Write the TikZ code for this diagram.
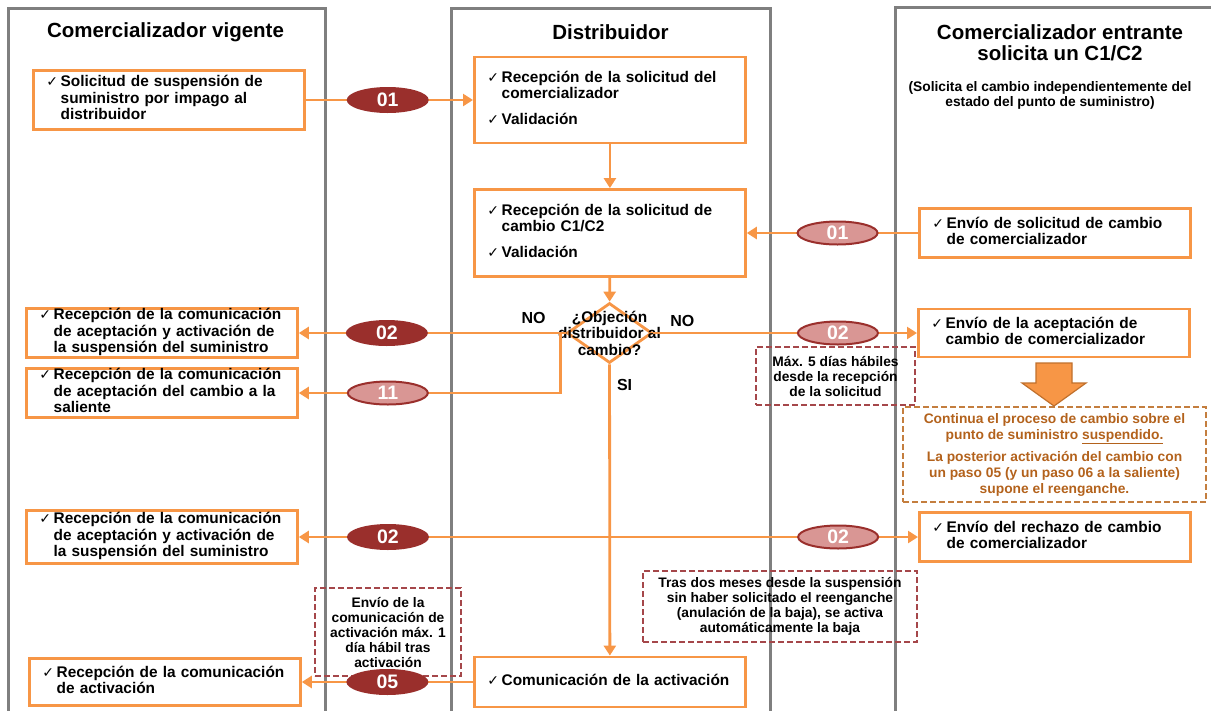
\documentclass[tikz,border=0pt]{standalone}
\usepackage{fontspec}
\setmainfont{Liberation Sans}
\newfontfamily\checkfont{DejaVu Sans}
\usetikzlibrary{positioning,arrows.meta,shapes.geometric}
\definecolor{orbox}{HTML}{F79646}
\definecolor{lanegray}{HTML}{7F7F7F}
\definecolor{stepred}{HTML}{9A2F2C}
\definecolor{steppink}{HTML}{D99694}
\definecolor{notered}{HTML}{A5474A}
\definecolor{notebrown}{HTML}{B3621C}
\definecolor{noteedge}{HTML}{C47E3E}
\definecolor{arrowedge}{HTML}{C0702C}
\newcommand{\chk}{{\checkfont\mdseries\fontsize{14}{14}\selectfont\char"2713}}
\newcommand{\checks}[1]{\begin{tabular}{@{}l@{\,}l@{}}#1\end{tabular}}
\newcommand{\bodyfont}{\fontsize{15.4}{16.5}\selectfont\bfseries}
\newcommand{\notefont}{\fontsize{13.8}{15}\selectfont\bfseries}
\newcommand{\headfont}{\fontsize{20.5}{21}\selectfont\bfseries}

\begin{document}
\begin{tikzpicture}[x=1pt, y=-1pt,
      >={Triangle[length=10pt, width=12pt]},
      lane/.style={draw=lanegray, line width=3pt},
      head/.style={font=\headfont, align=center, inner sep=0pt},
      box/.style={draw=orbox, line width=2.8pt, fill=white, anchor=west, text width=245pt,
                  inner xsep=13pt, inner ysep=0pt, align=left, font=\bodyfont},
      decision/.style={diamond, draw=orbox, line width=2.8pt, fill=white,
                  minimum width=85pt, minimum height=60pt, inner sep=0pt},
      stepdark/.style={ellipse, fill=stepred, text=white, font=\fontsize{19.5}{20}\selectfont\bfseries,
                  minimum width=82pt, minimum height=26pt, inner sep=0pt},
      steplight/.style={stepdark, fill=steppink, draw=stepred, line width=2pt,
                  minimum width=80pt, minimum height=23pt},
      note/.style={draw=notered, dash pattern=on 6pt off 3pt, line width=1.5pt,
                  align=center, font=\notefont, inner sep=0pt},
      lbl/.style={font=\fontsize{16}{16}\selectfont\bfseries, inner sep=0pt},
      arr/.style={->, draw=orbox, line width=2.8pt}]
    \useasboundingbox (0,0) rectangle (1211,710);
    % lanes
    \draw[lane] (8,730) |- (325,8) -- (325,730);
    \draw[lane] (451,730) |- (770,8) -- (770,730);
    \draw[lane] (895,730) |- (1240,7);
    \node[head] (h1) at (165.5,32) {Comercializador vigente};
    \node[head] (h2) at (610.5,32) {Distribuidor};
    \node[head] (h3) at (1060,42.5) {Comercializador entrante\\solicita un C1/C2};
    \node[font=\notefont, align=center, inner sep=0pt] (h3sub) at (1050,95.5)
      {(Solicita el cambio independientemente del\\estado del punto de suministro)};
    % comercializador vigente
    \node[box, minimum height=59pt] (a1) at (32,100) {\checks{\chk & Solicitud de suspensión de\\
      & suministro por impago al\\ & distribuidor}};
    \node[box, minimum height=49pt] (l2) at (25,333) {\checks{\chk & Recepción de la comunicación\\
      & de aceptación y activación de\\ & la suspensión del suministro}};
    \node[box, minimum height=49pt] (l3) at (25,393) {\checks{\chk & Recepción de la comunicación\\
      & de aceptación del cambio a la\\ & saliente}};
    \node[box, minimum height=53pt] (l4) at (25,537) {\checks{\chk & Recepción de la comunicación\\
      & de aceptación y activación de\\ & la suspensión del suministro}};
    \node[box, minimum height=47pt] (l5) at (28,682) {\checks{\chk & Recepción de la comunicación\\
      & de activación}};
    % distribuidor
    \node[box, minimum height=86pt] (d1) at (473,100) {\checks{\chk & Recepción de la solicitud del\\
      & comercializador\\[9pt] \chk & Validación}};
    \node[box, minimum height=87pt] (d2) at (473,233) {\checks{\chk & Recepción de la solicitud de\\
      & cambio C1/C2\\[9pt] \chk & Validación}};
    \node[decision, label={[font=\bodyfont, align=center]center:{¿Objeción\\distribuidor al\\cambio?}}]
      (q) at (609.5,333) {};
    \node[box, minimum height=50pt] (d3) at (473,682) {\checks{\chk & Comunicación de la activación}};
    % comercializador entrante
    \node[box, minimum height=49pt] (r1) at (918,233) {\checks{\chk & Envío de solicitud de cambio\\
      & de comercializador}};
    \node[box, minimum height=48pt] (r2) at (917,333) {\checks{\chk & Envío de la aceptación de\\
      & cambio de comercializador}};
    \node[box, minimum height=49pt] (r3) at (918,537) {\checks{\chk & Envío del rechazo de cambio\\
      & de comercializador}};
    % notes
    \node[note, minimum width=159pt, minimum height=58pt] (n1) at (835.5,376)
      {Máx. 5 días hábiles\\desde la recepción\\de la solicitud};
    \node[note, minimum width=146pt, minimum height=88pt] (n2) at (388,632)
      {Envío de la\\comunicación de\\activación máx. 1\\día hábil tras\\activación};
    \node[note, minimum width=274pt, minimum height=71pt] (n3) at (780,606.5)
      {Tras dos meses desde la suspensión\\sin haber solicitado el reenganche\\(anulación de la baja), se activa\\automáticamente la baja};
    \node[note, draw=noteedge, text=notebrown, font=\fontsize{13.8}{16}\selectfont\bfseries,
          minimum width=303pt, minimum height=95pt] (n4) at (1054.5,454.5)
      {Continua el proceso de cambio sobre el\\punto de suministro \underline{suspendido.}\\[6pt]
       La posterior activación  del cambio con\\un paso 05 (y un paso 06 a la saliente)\\supone el reenganche.};
    \draw[fill=orbox, draw=arrowedge, line width=1.2pt] (1036,363) -- (1072,363) -- (1072,383)
      -- (1086,383) -- (1054,406) -- (1022,383) -- (1036,383) -- cycle;
    % connectors
    \draw[arr] (a1) -- node[stepdark, pos=0.49] {01} (d1);
    \draw[arr] (d1) -- (d2);
    \draw[arr] (r1) -- node[steplight, pos=0.47] {01} (d2);
    \draw[arr] (d2) -- (q);
    \draw[arr] (q.east) -- node[lbl, pos=0.11, yshift=12pt] {NO} node[steplight, pos=0.70] {02} (r2);
    \draw[arr] (q.west) -- node[lbl, pos=0.12, yshift=15pt] {NO} node[stepdark, pos=0.67] {02} (l2);
    \draw[arr] ([xshift=-5pt]q.west) |- node[steplight, pos=0.83] {11} (l3);
    \draw[arr] (q) -- node[lbl, pos=0.07, xshift=15pt] {SI} (d3);
    \draw[arr, <->] (l4) -- node[stepdark, pos=0.144] {02} node[steplight, pos=0.871] {02} (r3);
    \draw[arr] (d3) -- node[stepdark, pos=0.5] {05} (l5);
  \end{tikzpicture}
\end{document}
